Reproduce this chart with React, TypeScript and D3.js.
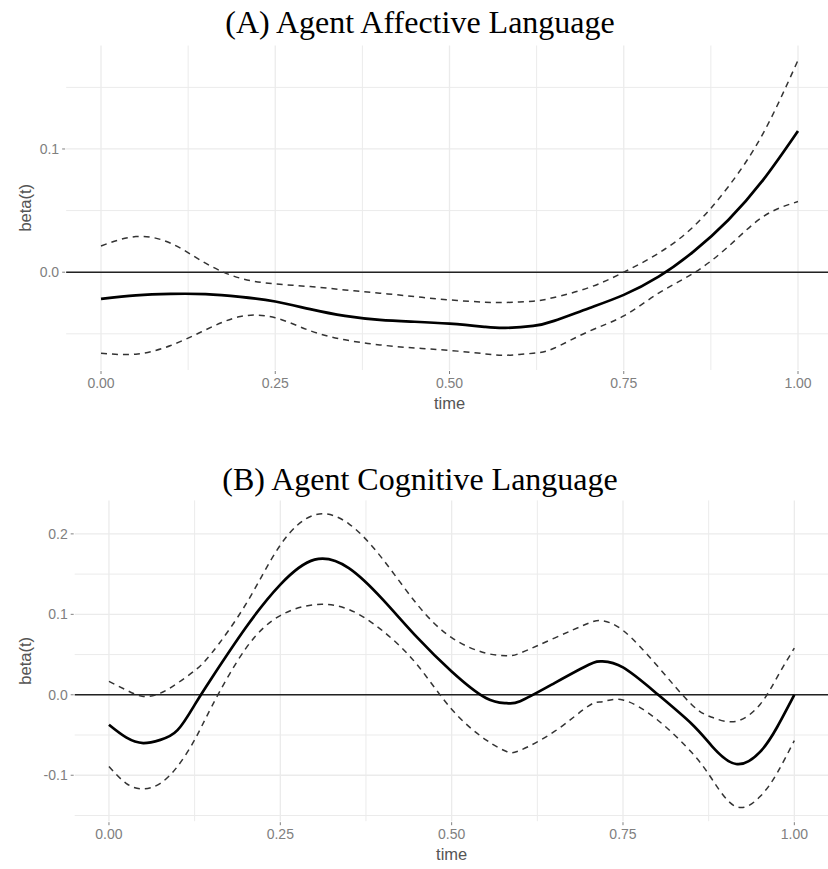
import React from "react";
import * as d3 from "d3";

const timeA = [0, 0.05, 0.1, 0.15, 0.2, 0.25, 0.3, 0.35, 0.4, 0.45, 0.5, 0.55, 0.58, 0.62, 0.65, 0.7, 0.75, 0.8, 0.85, 0.9, 0.95, 1.0];
const estA = [-0.0217, -0.0188, -0.0176, -0.0178, -0.0200, -0.0238, -0.0300, -0.0355, -0.0387, -0.0402, -0.0418, -0.0443, -0.0452, -0.0436, -0.0395, -0.0292, -0.0184, -0.0036, 0.0167, 0.0424, 0.0749, 0.1146];
const upperA = [0.0213, 0.0289, 0.0235, 0.0073, -0.0049, -0.0095, -0.0117, -0.0144, -0.017, -0.0198, -0.0225, -0.0243, -0.0246, -0.0235, -0.0205, -0.0125, 0.0, 0.0154, 0.037, 0.0694, 0.1127, 0.172];
const lowerA = [-0.0657, -0.0665, -0.0595, -0.0468, -0.0360, -0.0370, -0.0475, -0.0549, -0.059, -0.0615, -0.0635, -0.0662, -0.0674, -0.0658, -0.0617, -0.0480, -0.0355, -0.017, -0.0008, 0.0208, 0.0451, 0.0573];

const timeB = [0, 0.025, 0.05, 0.075, 0.1, 0.125, 0.15, 0.2, 0.25, 0.3, 0.35, 0.4, 0.45, 0.5, 0.55, 0.58, 0.6, 0.65, 0.7, 0.72, 0.75, 0.8, 0.85, 0.88, 0.915, 0.95, 0.975, 1.0];
const estB = [-0.0373, -0.053, -0.060, -0.056, -0.0440, -0.0125, 0.021, 0.084, 0.137, 0.168, 0.1575, 0.118, 0.071, 0.029, -0.004, -0.0104, -0.008, 0.0145, 0.0373, 0.0415, 0.034, 0.001, -0.036, -0.064, -0.086, -0.071, -0.040, 0.0];
const upperB = [0.0166, 0.006, -0.002, 0.002, 0.0145, 0.030, 0.052, 0.113, 0.186, 0.2235, 0.2125, 0.168, 0.112, 0.071, 0.0518, 0.0485, 0.0518, 0.0705, 0.089, 0.092, 0.080, 0.036, -0.012, -0.028, -0.033, -0.012, 0.022, 0.058];
const lowerB = [-0.089, -0.11, -0.117, -0.11, -0.089, -0.056, -0.0145, 0.058, 0.0985, 0.112, 0.106, 0.079, 0.037, -0.018, -0.056, -0.0705, -0.069, -0.0456, -0.0137, -0.0087, -0.0065, -0.031, -0.0715, -0.105, -0.139, -0.1265, -0.097, -0.057];

const xTicks = [0, 0.25, 0.5, 0.75, 1.0];
const xTickLabels = ["0.00", "0.25", "0.50", "0.75", "1.00"];
const yTicksA = [0, 0.1];
const yTickLabelsA = ["0.0", "0.1"];
const yTicksB = [-0.1, 0, 0.1, 0.2];
const yTickLabelsB = ["-0.1", "0.0", "0.1", "0.2"];

const titleA = "(A) Agent Affective Language";
const titleB = "(B) Agent Cognitive Language";

type PanelProps = {
  title: string;
  time: number[];
  est: number[];
  upper: number[];
  lower: number[];
  yTicks: number[];
  yTickLabels: string[];
  left: number;
  right: number;
  top: number;
  bottom: number;
  titleY: number;
};

function Panel(p: PanelProps) {
  const expand = (lo: number, hi: number) => {
    const d = (hi - lo) * 0.05;
    return [lo - d, hi + d];
  };
  const allY = [...p.est, ...p.upper, ...p.lower];
  const x = d3.scaleLinear().domain(expand(0, 1)).range([p.left, p.right]);
  const y = d3.scaleLinear().domain(expand(d3.min(allY)!, d3.max(allY)!)).range([p.bottom, p.top]);
  const line = (vals: number[]) =>
    d3.line<number>().x((_, i) => x(p.time[i])).y((v) => y(v)).curve(d3.curveNatural)(vals) || "";

  const [y0, y1] = y.domain();
  const minorX = xTicks.slice(0, -1).map((t, i) => (t + xTicks[i + 1]) / 2);
  const step = p.yTicks.length > 1 ? p.yTicks[1] - p.yTicks[0] : 0.1;
  const minorY: number[] = [];
  for (let v = p.yTicks[0] - step / 2; v <= y1; v += step) {
    if (v >= y0) minorY.push(v);
  }
  const grid = "#ebebeb";
  const axisCol = "#808080";
  const pr = Math.min(p.right, 828);

  return (
    <g>
      <text x={420} y={p.titleY} textAnchor="middle" fontFamily="'Liberation Serif', 'Times New Roman', serif" fontSize={32} fill="#000">
        {p.title}
      </text>
      {minorY.map((v, i) => (
        <line key={"my" + i} x1={p.left} x2={pr} y1={y(v)} y2={y(v)} stroke={grid} strokeWidth={1} />
      ))}
      {p.yTicks.map((v, i) => (
        <line key={"gy" + i} x1={p.left} x2={pr} y1={y(v)} y2={y(v)} stroke={grid} strokeWidth={1.3} />
      ))}
      {minorX.map((v, i) => (
        <line key={"mx" + i} x1={x(v)} x2={x(v)} y1={p.top} y2={p.bottom} stroke={grid} strokeWidth={1} />
      ))}
      {xTicks.map((v, i) => (
        <line key={"gx" + i} x1={x(v)} x2={x(v)} y1={p.top} y2={p.bottom} stroke={grid} strokeWidth={1.3} />
      ))}
      <line x1={p.left} x2={pr} y1={y(0)} y2={y(0)} stroke="#222" strokeWidth={1.5} />
      <path d={line(p.upper)} fill="none" stroke="#333" strokeWidth={1.5} strokeDasharray="6,5" />
      <path d={line(p.lower)} fill="none" stroke="#333" strokeWidth={1.5} strokeDasharray="6,5" />
      <path d={line(p.est)} fill="none" stroke="#000" strokeWidth={2.7} />
      {xTicks.map((v, i) => (
        <g key={"xt" + i}>
          <line x1={x(v)} x2={x(v)} y1={p.bottom + 1} y2={p.bottom + 4} stroke={axisCol} strokeWidth={1} />
          <text x={x(v)} y={p.bottom + 18} textAnchor="middle" fontFamily="'Liberation Sans', Arial, sans-serif" fontSize={14} fill={axisCol}>
            {xTickLabels[i]}
          </text>
        </g>
      ))}
      {p.yTicks.map((v, i) => (
        <g key={"yt" + i}>
          <line x1={p.left - 4} x2={p.left - 1} y1={y(v)} y2={y(v)} stroke={axisCol} strokeWidth={1} />
          <text x={p.left - 7} y={y(v) + 5} textAnchor="end" fontFamily="'Liberation Sans', Arial, sans-serif" fontSize={14} fill={axisCol}>
            {p.yTickLabels[i]}
          </text>
        </g>
      ))}
      <text x={x(0.5)} y={p.bottom + 39} textAnchor="middle" fontFamily="'Liberation Sans', Arial, sans-serif" fontSize={16.5} fill="#555">
        time
      </text>
      <text
        transform={`translate(31,${(p.top + p.bottom) / 2}) rotate(-90)`}
        textAnchor="middle"
        fontFamily="'Liberation Sans', Arial, sans-serif"
        fontSize={16.5}
        fill="#555"
      >
        beta(t)
      </text>
    </g>
  );
}

export default function App() {
  return (
    <svg width={828} height={869} style={{ position: "absolute", left: 0, top: 0, background: "#fff" }}>
      <rect width={828} height={869} fill="#fff" />
      <Panel
        title={titleA}
        time={timeA}
        est={estA}
        upper={upperA}
        lower={lowerA}
        yTicks={yTicksA}
        yTickLabels={yTickLabelsA}
        left={66.15}
        right={832.85}
        top={45.5}
        bottom={370}
        titleY={33}
      />
      <Panel
        title={titleB}
        time={timeB}
        est={estB}
        upper={upperB}
        lower={lowerB}
        yTicks={yTicksB}
        yTickLabels={yTickLabelsB}
        left={74.7}
        right={828.6}
        top={500.4}
        bottom={821.2}
        titleY={490}
      />
    </svg>
  );
}
